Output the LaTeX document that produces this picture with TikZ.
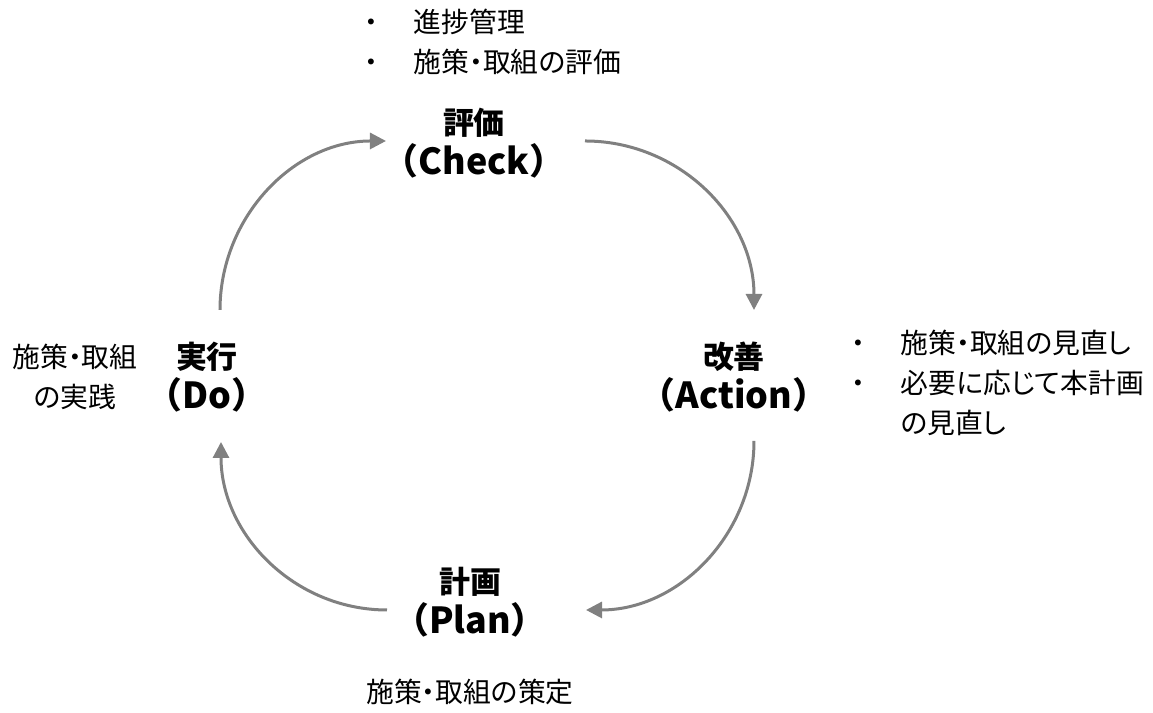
\documentclass[tikz,border=0pt]{standalone}
\usepackage{fontspec}
\setmainfont{Noto Sans CJK JP}[RawFeature=+palt]
\newfontfamily\stagefont{Noto Sans CJK JP}
\usetikzlibrary{arrows.meta}
\newcommand\notebullet{\makebox[0.49cm][l]{・}}
\newcommand\stagelatin{\fontsize{10.2pt}{11.4pt}\selectfont}
\begin{document}
\begin{tikzpicture}[x=0.01cm,y=0.01cm,
    stage/.style={align=center, inner sep=0pt, font=\fontsize{8.8pt}{11.4pt}\stagefont\bfseries},
    note/.style={align=left, inner sep=0pt, font=\fontsize{7.9pt}{11.4pt}\selectfont},
    turn/.style={-{Triangle[length=0.16cm,width=0.16cm]}, line width=0.03cm, gray}]
    \useasboundingbox (0,0) rectangle (1153,713);
    % the four stages
    \node[stage] (check) at (474,570) {評価\\\stagelatin（Check）};
    \node[stage] (action) at (734,336) {改善\\\stagelatin（Action）};
    \node[stage] (plan) at (470,111) {計画\\\stagelatin（Plan）};
    \node[stage] (do) at (207,336) {実行\\\stagelatin（Do）};
    % what is done in each stage
    \node[note, anchor=west] (check-note) at (364,671) {\notebullet 進捗管理\\\notebullet 施策・取組の評価};
    \node[note, anchor=west] (action-note) at (851,330) {\notebullet 施策・取組の見直し\\\notebullet 必要に応じて本計画\\\makebox[0.49cm]{}の見直し};
    \node[note, align=center] (do-note) at (75,336) {施策・取組\\の実践};
    \node[note] (plan-note) at (470,21) {施策・取組の策定};
    % ends of the arcs
    \coordinate (do-top) at (220,403);
    \coordinate (check-left) at (386,572);
    \coordinate (check-right) at (585,572);
    \coordinate (action-top) at (754,403);
    \coordinate (action-bottom) at (754,272);
    \coordinate (plan-right) at (586,103);
    \coordinate (plan-left) at (387,103);
    \coordinate (do-bottom) at (221,271);
    \draw[turn] (do-top) to[out=90,in=180] (check-left);
    \draw[turn] (check-right) to[out=0,in=90] (action-top);
    \draw[turn] (action-bottom) to[out=270,in=0] (plan-right);
    \draw[turn] (plan-left) to[out=180,in=270] (do-bottom);
\end{tikzpicture}
\end{document}
